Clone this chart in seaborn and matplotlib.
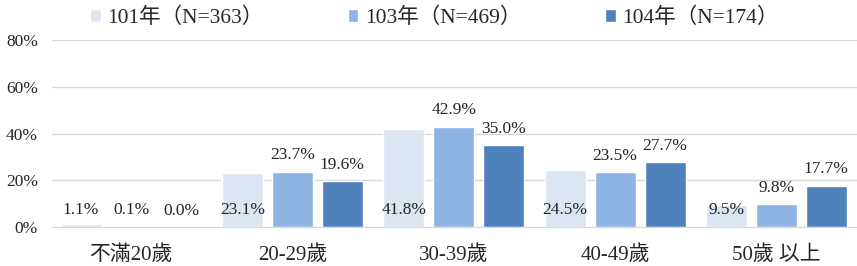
import matplotlib
matplotlib.use("Agg")
import matplotlib.pyplot as plt
import seaborn as sns
import pandas as pd

categories = ["不滿20歲", "20-29歲", "30-39歲", "40-49歲", "50歲 以上"]
series_names = ["101年（N=363）", "103年（N=469）", "104年（N=174）"]
v101 = [1.1, 23.1, 41.8, 24.5, 9.5]
v103 = [0.1, 23.7, 42.9, 23.5, 9.8]
v104 = [0.0, 19.6, 35.0, 27.7, 17.7]
colors = ["#DCE6F2", "#8EB4E3", "#4F81BD"]
yticks = [0, 20, 40, 60, 80]

rows = []
for name, vals in zip(series_names, [v101, v103, v104]):
    for c, v in zip(categories, vals):
        rows.append({"cat": c, "series": name, "value": v})
df = pd.DataFrame(rows)

sns.set_style("white")
plt.rcParams["font.family"] = ["Liberation Serif", "Noto Sans CJK TC"]
txt = "#262626"

fig = plt.figure(figsize=(8.57, 2.66), dpi=100)
ax = fig.add_axes([52 / 857, 1 - 227 / 266, 1 - 52 / 857, (227 - 40) / 266])
sns.barplot(data=df, x="cat", y="value", hue="series", order=categories,
            hue_order=series_names, palette=colors, width=0.93, gap=0.18,
            saturation=1, ax=ax, errorbar=None)
ax.set_ylim(0, 80)
ax.set_xlim(-0.49, 4.5)
ax.set_yticks(yticks)
ax.set_yticklabels([f"{t}%" for t in yticks], fontsize=12.5, color=txt)
ax.tick_params(axis="x", labelsize=15, colors=txt, length=0, pad=13)
ax.tick_params(axis="y", length=0, pad=10)
ax.set_xlabel("")
ax.set_ylabel("")
ax.grid(axis="y", color="#D9D9D9", linewidth=1)
ax.set_axisbelow(True)
for s in ["top", "right", "left"]:
    ax.spines[s].set_visible(False)
ax.spines["bottom"].set_color("#D9D9D9")

for i, cont in enumerate(ax.containers):
    for bar, v in zip(cont, [v101, v103, v104][i]):
        x = bar.get_x() + bar.get_width() / 2
        if i == 0:
            y = 7.2
        else:
            y = max(v, 0) + 7.0
        ax.text(x, y, f"{v:.1f}%", ha="center", va="center", fontsize=12.5, color=txt)

sns.move_legend(ax, "upper center", bbox_to_anchor=(0.5 - 20 / 805, 1.277), ncol=3,
                frameon=False, title=None, fontsize=15.5, handlelength=0.5,
                handleheight=0.5, handletextpad=0.3, columnspacing=3.9)
for t in ax.get_legend().get_texts():
    t.set_color(txt)

fig.savefig("out.png", dpi=100)
